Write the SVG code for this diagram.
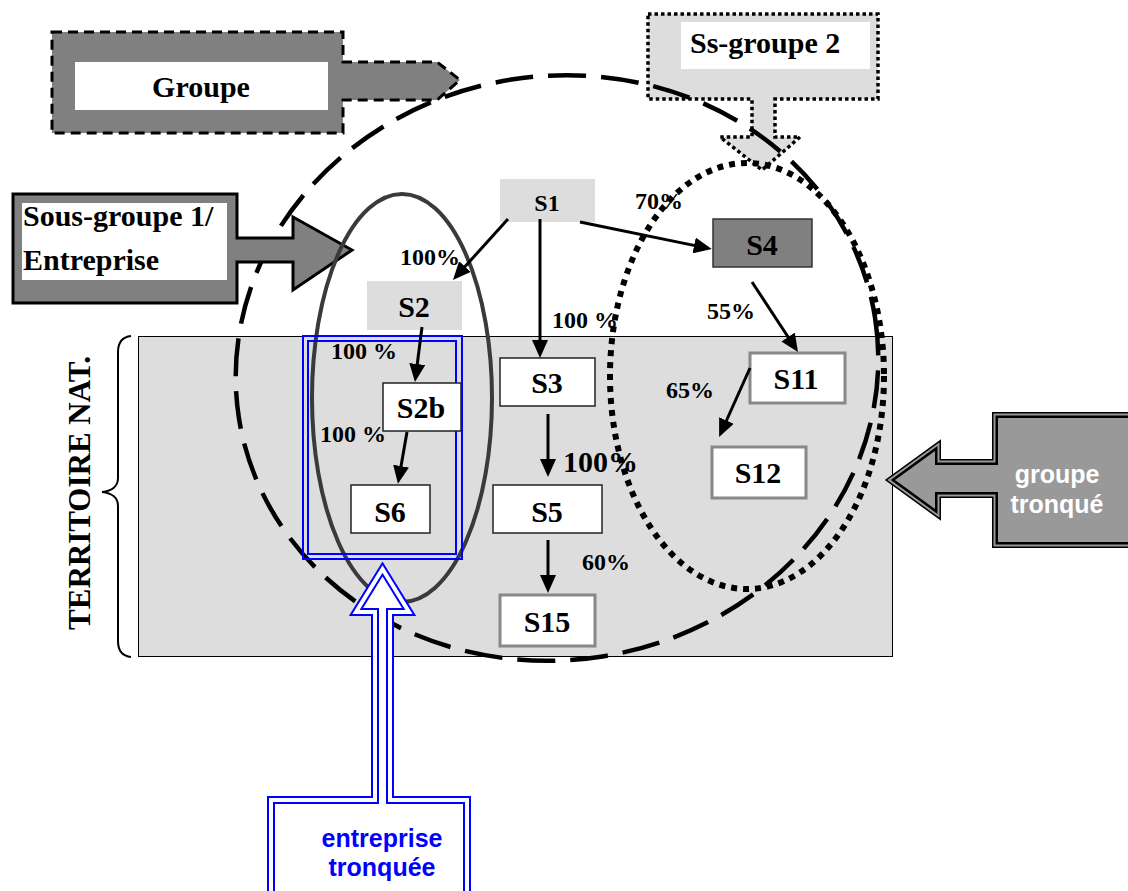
<svg xmlns="http://www.w3.org/2000/svg" width="1128" height="891" viewBox="0 0 1128 891">
<defs>
<style>
.t{font-family:"Liberation Serif","Times New Roman",serif;font-weight:bold;fill:#000}
.s{font-family:"Liberation Sans",Arial,sans-serif;font-weight:bold}
.lbl{font-size:30px;text-anchor:middle}
.pct{font-size:24px}
.box{fill:#fff;stroke:#222;stroke-width:1.5}
.gbox{fill:#fff;stroke:#888;stroke-width:3}
.lt{fill:#ddd;stroke:none}
.arr{stroke:#000;stroke-width:3;fill:none;marker-end:url(#ah)}
</style>
<marker id="ah" viewBox="0 0 18 16" refX="6" refY="8" markerWidth="18" markerHeight="16" markerUnits="userSpaceOnUse" orient="auto">
<path d="M0,0 L18,8 L0,16 Z" fill="#000"/>
</marker>
</defs>
<rect width="1128" height="891" fill="#fff"/>

<g id="territoire">
<rect x="138.5" y="336.5" width="754" height="320" fill="#ddd" stroke="#000" stroke-width="1"/>
<path d="M131,336 C122,337 118,342 118,352 L118,478 C118,486 112,491 102,492 C112,493 118,498 118,506 L118,641 C118,651 122,656 131,657" fill="none" stroke="#000" stroke-width="2"/>
<text class="t" font-size="31" text-anchor="middle" transform="translate(90,493) rotate(-90)">TERRITOIRE NAT.</text>
</g>

<g id="groupe">
<path d="M52,32 H343 V62 H437 L460,80 L437,100 H343 V133 H52 Z" fill="#808080" stroke="#000" stroke-width="3" stroke-dasharray="10 6"/>
<rect x="75" y="62" width="253" height="48" fill="#fff"/>
<text class="t" font-size="30" x="201" y="97" text-anchor="middle">Groupe</text>
</g>

<g id="ss-groupe-2">
<path d="M648,14 H878 V99 H775 V137 H800 L762,170 L720,137 H752 V99 H648 Z" fill="#ddd" stroke="#000" stroke-width="3.5" stroke-dasharray="3.5 3"/>
<rect x="681" y="22" width="189" height="47" fill="#fff"/>
<text class="t" font-size="30" x="690" y="53">Ss-groupe 2</text>
</g>

<g id="ellipses">
<ellipse id="groupe-ellipse" cx="557" cy="368" rx="322" ry="292" transform="rotate(-9 557 368)" fill="none" stroke="#000" stroke-width="4.5" stroke-dasharray="38 15"/>
<ellipse id="ss-groupe-2-ellipse" cx="747" cy="376" rx="137" ry="213" fill="none" stroke="#000" stroke-width="6" stroke-dasharray="6 6"/>
</g>

<g id="sous-groupe-1">
<path d="M13,194 H237 V238 H293 V217 L352,250 L293,290 V262 H237 V303 H13 Z" fill="#808080" stroke="#000" stroke-width="3"/>
<rect x="22" y="203" width="205" height="77" fill="#fff"/>
<text class="t" font-size="30" x="23" y="226">Sous-groupe 1/</text>
<text class="t" font-size="30" x="23" y="270">Entreprise</text>
</g>
<ellipse id="sous-groupe-1-ellipse" cx="402" cy="398" rx="90" ry="204" fill="none" stroke="#3a3a3a" stroke-width="4"/>

<g id="frame-entreprise-tronquee">
<rect x="303" y="336" width="159" height="223" fill="none" stroke="#00f" stroke-width="2"/>
<rect x="308" y="341" width="148" height="213" fill="none" stroke="#00f" stroke-width="2"/>
</g>

<g id="S1"><rect class="lt" x="500" y="179" width="95" height="43"/><text class="t pct" x="547" y="211" text-anchor="middle">S1</text></g>
<g id="S2"><rect class="lt" x="367" y="281" width="95" height="49"/><text class="t lbl" x="414" y="317">S2</text></g>
<g id="S3"><rect class="box" x="500" y="358" width="95" height="48"/><text class="t lbl" x="547" y="393">S3</text></g>
<g id="S2b"><rect class="box" x="383" y="383" width="78" height="48"/><text class="t lbl" x="421" y="418">S2b</text></g>
<g id="S6"><rect class="box" x="351" y="485" width="79" height="48"/><text class="t lbl" x="390" y="522">S6</text></g>
<g id="S5"><rect class="box" x="493" y="485" width="109" height="48"/><text class="t lbl" x="547" y="522">S5</text></g>
<g id="S15"><rect class="gbox" x="500" y="595" width="95" height="51"/><text class="t lbl" x="547" y="632">S15</text></g>
<g id="S4"><rect x="713" y="219" width="99" height="48" fill="#808080" stroke="#333" stroke-width="1.5"/><text class="t lbl" x="762" y="255">S4</text></g>
<g id="S11"><rect class="gbox" x="750" y="353" width="95" height="50"/><text class="t lbl" x="796" y="389">S11</text></g>
<g id="S12"><rect class="gbox" x="712" y="447" width="94" height="51"/><text class="t lbl" x="758" y="483">S12</text></g>

<g id="connectors">
<line class="arr" x1="508" y1="219" x2="461" y2="271"/>
<line class="arr" x1="540" y1="219" x2="540" y2="346"/>
<line class="arr" x1="580" y1="222" x2="700" y2="246.6"/>
<line class="arr" x1="752" y1="282" x2="791.4" y2="342"/>
<line class="arr" x1="750" y1="368" x2="724" y2="426"/>
<line class="arr" x1="422" y1="327" x2="416.5" y2="370"/>
<line class="arr" x1="407" y1="432" x2="400" y2="472"/>
<line class="arr" x1="548" y1="414" x2="548" y2="465"/>
<line class="arr" x1="548" y1="540" x2="548" y2="581"/>
</g>

<g id="labels">
<text class="t pct" x="400" y="265">100%</text>
<text class="t pct" x="552" y="328">100 %</text>
<text class="t pct" x="635" y="209">70%</text>
<text class="t pct" x="707" y="319">55%</text>
<text class="t pct" x="666" y="398">65%</text>
<text class="t pct" x="331" y="359">100 %</text>
<text class="t pct" x="320" y="442">100 %</text>
<text class="t" font-size="30" x="563" y="472">100%</text>
<text class="t pct" x="582" y="570">60%</text>
</g>

<g id="entreprise-tronquee">
<path d="M271,905 V800 H375 V612 H356 L382.5,569 L409,612 H390 V800 H467 V905 Z" fill="#fff" stroke="#00f" stroke-width="8"/>
<path d="M271,905 V800 H375 V612 H356 L382.5,569 L409,612 H390 V800 H467 V905 Z" fill="none" stroke="#fff" stroke-width="4"/>
<text class="s" font-size="25" fill="#00f" x="382" y="847" text-anchor="middle">entreprise</text>
<text class="s" font-size="25" fill="#00f" x="382" y="876" text-anchor="middle">tronquée</text>
</g>

<g id="groupe-tronque">
<path d="M1140,418 H998 V465 H935 V451 L895,480 L935,509 V492 H998 V542 H1140 Z" fill="none" stroke="#000" stroke-width="12"/>
<path d="M1140,418 H998 V465 H935 V451 L895,480 L935,509 V492 H998 V542 H1140 Z" fill="none" stroke="#999" stroke-width="9"/>
<path d="M1140,418 H998 V465 H935 V451 L895,480 L935,509 V492 H998 V542 H1140 Z" fill="none" stroke="#000" stroke-width="5"/>
<path d="M1140,418 H998 V465 H935 V451 L895,480 L935,509 V492 H998 V542 H1140 Z" fill="#999"/>
<text class="s" font-size="25" fill="#fff" x="1057" y="483" text-anchor="middle">groupe</text>
<text class="s" font-size="25" fill="#fff" x="1057" y="513" text-anchor="middle">tronqué</text>
</g>
</svg>
